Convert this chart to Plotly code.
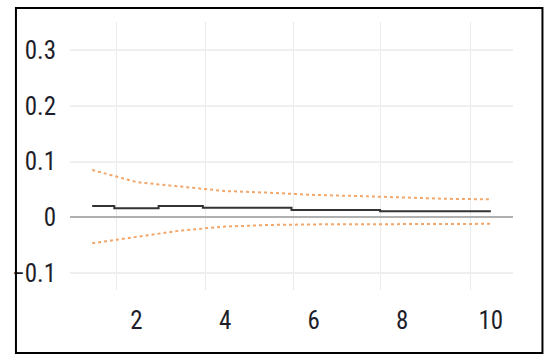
import plotly.graph_objects as go

lags = [1, 2, 3, 4, 5, 6, 7, 8, 9, 10]
coef = [0.020, 0.016, 0.020, 0.017, 0.017, 0.013, 0.013, 0.0105, 0.0105, 0.0105]
upper = [0.085, 0.063, 0.055, 0.047, 0.044, 0.040, 0.038, 0.035, 0.033, 0.032]
lower = [-0.047, -0.035, -0.024, -0.017, -0.014, -0.013, -0.013, -0.012, -0.012, -0.012]

x_ticks = [2, 4, 6, 8, 10]
y_ticks = [-0.1, 0, 0.1, 0.2, 0.3]
y_labels = ["\u22120.1", "0", "0.1", "0.2", "0.3"]
grid_x = [1.55, 3.55, 5.55, 7.5, 9.55]

tick_font = dict(family='Liberation Sans Narrow, Roboto Condensed, Arial Narrow, Roboto, sans-serif',
                 size=25, color='#1e1e2a')

fig = go.Figure()

# confidence bands
fig.add_trace(go.Scatter(x=lags, y=upper, mode='lines',
                         line=dict(color='#F2A66A', width=2, dash='3px,3px')))
fig.add_trace(go.Scatter(x=lags, y=lower, mode='lines',
                         line=dict(color='#F2A66A', width=2, dash='3px,3px')))
# coefficient step line
fig.add_trace(go.Scatter(x=lags, y=coef, mode='lines', line_shape='hvh',
                         line=dict(color='#333333', width=2)))

fig.update_xaxes(range=[0.5, 10.5], tickvals=x_ticks, showgrid=False,
                 zeroline=False, ticks='outside', ticklen=8, tickcolor='rgba(0,0,0,0)',
                 minor=dict(tickvals=grid_x, showgrid=True, gridcolor='#EBEBEB', gridwidth=1),
                 tickfont=tick_font)
fig.update_yaxes(range=[-0.131, 0.351], tickvals=y_ticks, ticktext=y_labels,
                 showgrid=True, gridcolor='#EFEFEF', gridwidth=1.5,
                 zeroline=True, zerolinecolor='#B0B0B0', zerolinewidth=1.5,
                 ticks='outside', ticklen=8, tickcolor='rgba(0,0,0,0)',
                 tickfont=tick_font)

# frame around the picture
fig.add_shape(type='rect', xref='paper', yref='paper',
              x0=-0.122, x1=1.0665, y0=-0.235, y1=1.052,
              line=dict(color='black', width=2))

fig.update_layout(width=550, height=363, showlegend=False,
                  margin=dict(l=62, r=37, t=22, b=73),
                  plot_bgcolor='white', paper_bgcolor='white')

fig.write_html("out.html", config={'displayModeBar': False},
               post_script="document.body.style.margin='0';")
